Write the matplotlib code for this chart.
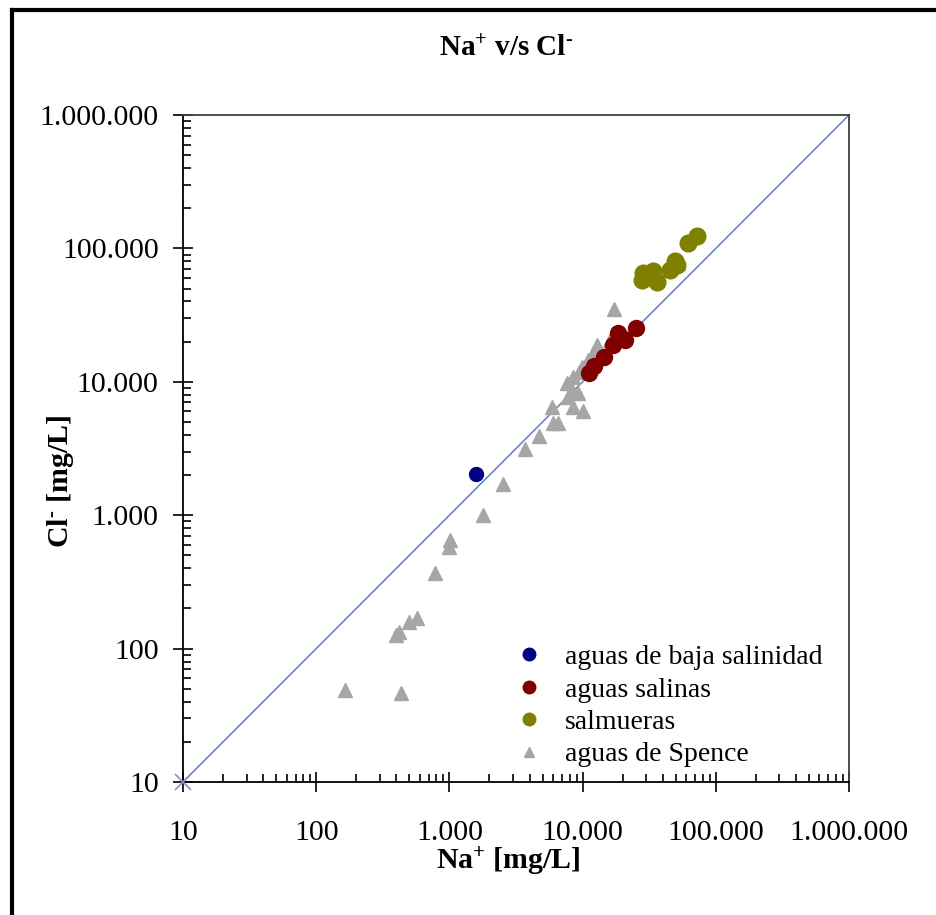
import numpy as np
import matplotlib
matplotlib.use('Agg')
import matplotlib.pyplot as plt
from matplotlib.ticker import FuncFormatter, LogLocator
from matplotlib.lines import Line2D

plt.rcParams['font.family'] = ['Liberation Serif', 'DejaVu Serif']
plt.rcParams['mathtext.fontset'] = 'custom'
plt.rcParams['mathtext.rm'] = 'Liberation Serif'
plt.rcParams['mathtext.bf'] = 'Liberation Serif:bold'
plt.rcParams['mathtext.default'] = 'regular'

# Na+ vs Cl- concentrations [mg/L]
baja_na = [1580]
baja_cl = [2040]

salinas_na = [25200, 18450, 19800, 20800, 16900, 14500, 12200, 11200]
salinas_cl = [25300, 23200, 21300, 20600, 18900, 15300, 13100, 11600]

salmueras_na = [72300, 61900, 49400, 45300, 51100, 28400, 33800, 36200, 27900]
salmueras_cl = [123900, 109700, 80500, 68900, 75100, 65400, 67800, 56000, 58000]

spence_na = [17200, 16060, 12830, 11970, 10990, 9890, 9400, 8470, 7640, 8320,
             9230, 7770, 8470, 10070, 5890, 6000, 6540, 4710, 3700, 2530,
             1790, 1010, 1000, 780, 571, 497, 419, 397, 164, 433, 52000]
spence_cl = [35150, 20570, 18880, 16440, 14560, 12910, 11840, 10870, 9800, 8680,
             8240, 7690, 6480, 6040, 6480, 4910, 4910, 3930, 3130, 1710,
             1000, 650, 580, 370, 169, 158, 133, 126, 49, 46.5, 77800]

ref_line = [10, 1000000]

fig = plt.figure(figsize=(9.36, 9.15), dpi=100)
ax = fig.add_axes([183/936, 1-782/915, 666/936, 667/915])

# 1:1 line
ax.plot(ref_line, ref_line, color='#5B82B8', lw=1.1, zorder=1)
ax.plot([10], [10], marker='x', color='#9A86C8', ms=12, mew=1.2, ls='none',
        clip_on=False, zorder=5)

ax.plot(spence_na, spence_cl, '^', color='#A6A6A6', ms=10, mec='#A6A6A6', ls='none', zorder=2)
ax.plot(salinas_na, salinas_cl, 'o', color='#800000', ms=11.5, ls='none', zorder=3)
ax.plot(salmueras_na, salmueras_cl, 'o', color='#808000', ms=12, ls='none', zorder=3)
ax.plot(baja_na, baja_cl, 'o', color='#000080', ms=10, ls='none', zorder=3)

ax.set_xscale('log')
ax.set_yscale('log')
ax.set_xlim(10, 1000000)
ax.set_ylim(10, 1000000)

fmt = FuncFormatter(lambda v, p: f"{int(round(v)):,}".replace(',', '.'))
for axis in (ax.xaxis, ax.yaxis):
    axis.set_major_locator(LogLocator(base=10, numticks=10))
    axis.set_minor_locator(LogLocator(base=10, subs=np.arange(2, 10), numticks=20))
    axis.set_major_formatter(fmt)
    axis.set_minor_formatter(plt.NullFormatter())

ax.tick_params(which='major', direction='inout', length=15, width=1.2,
               labelsize=21.5, color='black')
ax.tick_params(axis='y', which='major', pad=10)
ax.tick_params(axis='x', which='major', pad=20)
ax.tick_params(which='minor', direction='in', length=6, width=1.2, color='black')

for s in ('left', 'bottom'):
    ax.spines[s].set_linewidth(1.3)
    ax.spines[s].set_color('black')
for s in ('top', 'right'):
    ax.spines[s].set_linewidth(1.3)
    ax.spines[s].set_color('#404040')

ax.set_xlabel('Na$^{+}$ [mg/L]', fontsize=21.5, fontweight='bold')
ax.set_ylabel('Cl$^{\u2010}$ [mg/L]', fontsize=21.5, fontweight='bold')
ax.xaxis.set_label_coords(0.489, -0.094)
ax.yaxis.set_label_coords(-0.161, 0.45)
fig.text(0.541, 1-48/915, 'Na$^{+}$ v/s Cl$^{\u2010}$', fontsize=21, fontweight='bold',
         ha='center', va='center')

handles = [
    Line2D([], [], marker='o', color='#000080', ls='none', ms=9),
    Line2D([], [], marker='o', color='#800000', ls='none', ms=9),
    Line2D([], [], marker='o', color='#808000', ls='none', ms=9),
    Line2D([], [], marker='^', color='#A6A6A6', ls='none', ms=7),
]
labels = ['aguas de baja salinidad', 'aguas salinas', 'salmueras', 'aguas de Spence']
ax.legend(handles, labels, loc='upper left', bbox_to_anchor=(0.482, 0.2225),
          frameon=False, fontsize=20, handlelength=1.0, handletextpad=0.8,
          labelspacing=0.25, borderaxespad=0)

# outer frame of the chart area
fig.add_artist(Line2D([12/936, 12/936], [0, 1-10/915], color='black', lw=3,
                      transform=fig.transFigure))
fig.add_artist(Line2D([12/936, 1], [1-10/915, 1-10/915], color='black', lw=3,
                      transform=fig.transFigure))

fig.savefig('out.png', dpi=100)
